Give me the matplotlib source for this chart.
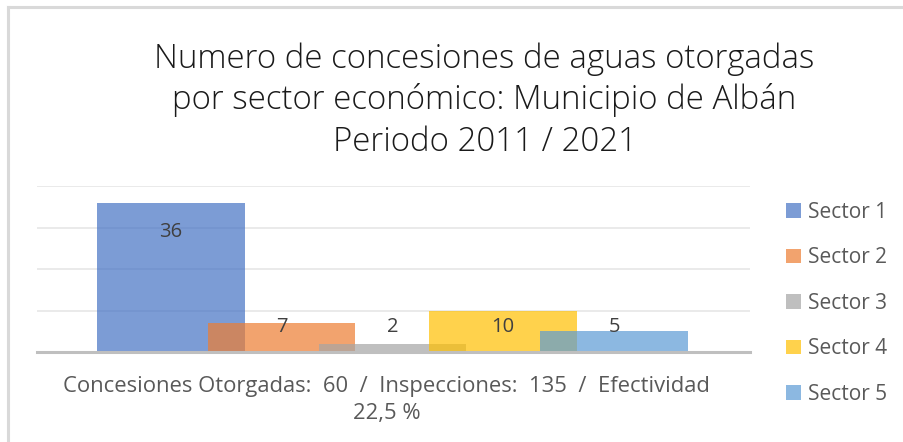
import matplotlib.pyplot as plt
from matplotlib.lines import Line2D

sectors = ["Sector 1", "Sector 2", "Sector 3", "Sector 4", "Sector 5"]
concesiones = [36, 7, 2, 10, 5]
colors = ["#4472C4", "#ED7D31", "#A5A5A5", "#FFC000", "#5B9BD5"]

title = "Numero de concesiones de aguas otorgadas\npor sector económico: Municipio de Albán\nPeriodo 2011 / 2021"
x_label = "Concesiones Otorgadas:  60  /  Inspecciones:  135  /  Efectividad\n22,5 %"

plt.rcParams["font.family"] = ["Open Sans", "DejaVu Sans"]

fig = plt.figure(figsize=(9.04, 4.42), dpi=100)
ax = fig.add_axes([0.041, 0.2036, 0.7886, 0.3747])

# overlapping bars, step of 0.75 bar widths
step = 0.75
for i, (name, val, col) in enumerate(zip(sectors, concesiones, colors)):
    ax.bar(i * step, val, width=1.0, color=col, alpha=0.7, label=name, zorder=2)
    ax.text(i * step, max(6, val - 7), str(val), ha="center", va="center",
            fontsize=14.5, color="#404040", zorder=3)

ax.set_ylim(0, 40)
ax.set_xlim(-0.905, 4 * step + 0.5 + 0.42)
ax.set_yticks([0, 10, 20, 30, 40])
ax.yaxis.grid(True, color="#E6E6E6", linewidth=1.2, zorder=0)
ax.tick_params(left=False, bottom=False, labelleft=False, labelbottom=False)
for s in ["top", "right", "left"]:
    ax.spines[s].set_visible(False)
ax.spines["bottom"].set_color("#BFBFBF")
ax.spines["bottom"].set_linewidth(2.2)
ax.spines["bottom"].set_zorder(4)

fig.text(0.536, 0.773, title, ha="center", va="center", fontsize=23.8,
         fontweight="light", color="#1A1A1A", linespacing=1.3)
fig.text(0.428, 0.095, x_label, ha="center", va="center", fontsize=15.8,
         color="#595959", linespacing=1.32)

leg = fig.legend(loc="center left", bbox_to_anchor=(0.858, 0.314), frameon=False,
                 fontsize=15, handlelength=0.7, handleheight=0.7,
                 handletextpad=0.35, labelspacing=1.18, borderpad=0)
for t in leg.get_texts():
    t.set_color("#595959")
for h in leg.legend_handles:
    h.set_alpha(0.7)

# light chart border (top and left only visible)
fig.add_artist(Line2D([0.009, 1.0], [0.984, 0.984], color="#D9D9D9", linewidth=2.2))
fig.add_artist(Line2D([0.009, 0.009], [0.0, 0.984], color="#D9D9D9", linewidth=2.2))

fig.savefig("out.png", dpi=100, facecolor="white")
